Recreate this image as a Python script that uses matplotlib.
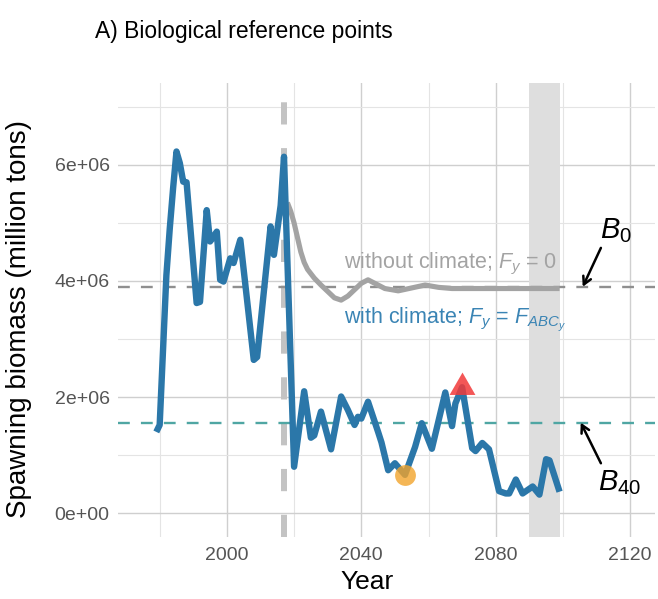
import numpy as np
import matplotlib
matplotlib.use("Agg")
import matplotlib.pyplot as plt
from matplotlib.path import Path

plt.rcParams['font.family'] = ['Liberation Sans', 'DejaVu Sans']
plt.rcParams['mathtext.fontset'] = 'custom'
plt.rcParams['mathtext.rm'] = 'Liberation Sans'
plt.rcParams['mathtext.it'] = 'Liberation Sans:italic'
plt.rcParams['lines.scale_dashes'] = False

# --- spawning biomass, with climate (hindcast + projection under F_ABC) ---
years_clim = [1979, 1980, 1982, 1983, 1984, 1985, 1986, 1987, 1988, 1991, 1992,
              1994, 1995, 1996, 1997, 1998, 1999, 2001, 2002, 2004, 2008, 2009,
              2013, 2014, 2016, 2017, 2020, 2023, 2025, 2026, 2028, 2031, 2034,
              2036, 2038, 2039, 2040, 2042, 2045, 2046, 2048, 2050, 2053, 2056,
              2058, 2061, 2065, 2067, 2068, 2070, 2073, 2074, 2076, 2078, 2081,
              2083, 2084, 2086, 2088, 2091, 2093, 2095, 2096, 2099]
ssb_clim = [1.40, 1.52, 4.10, 4.90, 5.60, 6.23, 6.03, 5.71, 5.70, 3.62, 3.64,
            5.22, 4.68, 4.76, 4.85, 4.02, 3.99, 4.39, 4.31, 4.71, 2.64, 2.69,
            4.94, 4.45, 5.30, 6.14, 0.80, 2.10, 1.30, 1.34, 1.75, 1.10, 2.01,
            1.78, 1.52, 1.66, 1.63, 1.92, 1.40, 1.22, 0.74, 0.86, 0.66, 1.14,
            1.55, 1.11, 2.08, 1.50, 1.89, 2.17, 1.12, 1.07, 1.21, 1.10, 0.38,
            0.34, 0.34, 0.58, 0.34, 0.46, 0.32, 0.93, 0.91, 0.37]

# --- projection without climate, F = 0 ---
years_noclim = [2018, 2019, 2020, 2021, 2022, 2023, 2024, 2026, 2028, 2030,
                2032, 2034, 2036, 2038, 2040, 2042, 2044, 2047, 2051, 2055,
                2059, 2063, 2067, 2075, 2082, 2099]
ssb_noclim = [5.35, 5.20, 5.00, 4.75, 4.50, 4.32, 4.20, 4.05, 3.93, 3.82,
              3.71, 3.67, 3.74, 3.85, 3.96, 4.02, 3.96, 3.87, 3.83, 3.88,
              3.93, 3.89, 3.87, 3.87, 3.87, 3.87]

B0 = 3.90e6
B40 = 0.4 * B0
start_proj = 2017
window = (2090, 2099)

min_pt = (2053, 0.66)
max_pt = (2070, 2.17)

ytick_major = [0, 2e6, 4e6, 6e6]
ytick_labels = ['0e+00', '2e+06', '4e+06', '6e+06']
ytick_minor = [1e6, 3e6, 5e6, 7e6]
xtick_major = [2000, 2040, 2080, 2120]
xtick_minor = [1980, 2020, 2060, 2100]

blue = '#2b77a9'
grey_line = '#a3a3a3'

fig = plt.figure(figsize=(6.58, 5.99), dpi=100)
ax = fig.add_axes([118/658, 1 - 537/599, (655 - 118)/658, (537 - 83)/599])

ax.set_xlim(1967.6, 2127.4)
ax.set_ylim(-0.41e6, 7.41e6)

# grid
ax.set_xticks(xtick_major)
ax.set_xticks(xtick_minor, minor=True)
ax.set_yticks(ytick_major)
ax.set_yticklabels(ytick_labels)
ax.set_yticks(ytick_minor, minor=True)
ax.grid(which='major', color='#cfcfcf', linewidth=1.0, zorder=0)
ax.grid(which='minor', color='#e4e4e4', linewidth=0.8, zorder=0)
ax.tick_params(which='both', length=0, labelsize=14, labelcolor='#555555')
ax.tick_params(axis='x', pad=7)
ax.tick_params(axis='y', pad=6)
for s in ax.spines.values():
    s.set_visible(False)
ax.set_axisbelow(True)

# evaluation window
ax.axvspan(*window, color='#dedede', zorder=1, linewidth=0)

# start of projection
ax.axvline(start_proj, color='#c3c3c3', linewidth=4.3, dashes=(16, 17), zorder=2)

# reference lines
ax.axhline(B0, color='#8f8f8f', linewidth=1.7, dashes=(8.5, 8), zorder=2)
ax.axhline(B40, color='#4fa6a3', linewidth=1.7, dashes=(8.5, 8), zorder=2)

# biomass trajectories
ax.plot(years_noclim, np.array(ssb_noclim) * 1e6, color=grey_line, linewidth=3.7,
        solid_joinstyle='round', solid_capstyle='butt', zorder=3)
ax.plot(years_clim, np.array(ssb_clim) * 1e6, color=blue, linewidth=4.6,
        solid_joinstyle='round', solid_capstyle='butt', zorder=4)

# min / max markers
tri = Path([(0, 1), (-0.866, -0.5), (0.866, -0.5), (0, 1)],
           [Path.MOVETO, Path.LINETO, Path.LINETO, Path.CLOSEPOLY])
ax.plot(min_pt[0], min_pt[1] * 1e6, 'o', color='#f2a42c', alpha=0.8,
        markersize=15, markeredgewidth=0, zorder=5)
ax.plot(max_pt[0], max_pt[1] * 1e6, marker=tri, color='#f23a3a', alpha=0.85,
        markersize=21.5, markeredgewidth=0, linestyle='none', zorder=5)

# labels on the lines
ax.text(2035, 4.22e6, 'without climate; $F_y$ = 0', color='#a3a3a3',
        fontsize=15.5, va='baseline', ha='left', zorder=6)
ax.text(2035, 3.28e6, 'with climate; $F_y$ = $F_{ABC_y}$', color='#3a84b4',
        fontsize=15.5, va='baseline', ha='left', zorder=6)

# reference point annotations
arrow = dict(arrowstyle='->,head_length=0.55,head_width=0.3', color='black',
             linewidth=1.8, shrinkA=0, shrinkB=0)
ax.annotate('', xy=(2105.9, B0), xytext=(2111.3, 4.57e6), arrowprops=arrow, zorder=6)
ax.annotate('', xy=(2105.3, B40), xytext=(2111.3, 0.86e6), arrowprops=arrow, zorder=6)
ax.text(2111.0, 4.74e6, '$B_0$', fontsize=21, va='baseline', ha='left', zorder=6)
ax.text(2110.4, 0.40e6, '$B_{40}$', fontsize=21, va='baseline', ha='left', zorder=6)

ax.set_xlabel('Year', fontsize=19)
ax.xaxis.set_label_coords(0.464, -0.072)
ax.set_ylabel('Spawning biomass (million tons)', fontsize=20)
ax.yaxis.set_label_coords(-0.16, 0.48)

fig.text(95/658, 1 - 38/599, 'A) Biological reference points', fontsize=16.5,
         ha='left', va='baseline')

fig.savefig('out.png', dpi=100)
